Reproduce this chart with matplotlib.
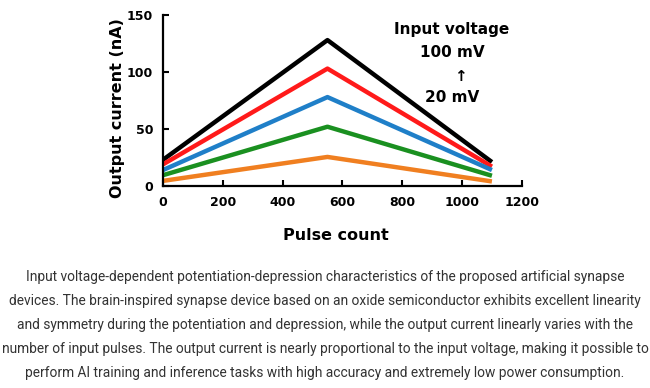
import matplotlib
matplotlib.use("Agg")
import matplotlib.pyplot as plt

# pulse count at start, switch point and end of the train
pulse = [0, 550, 1100]

# output current (nA) for each input voltage, top to bottom
i_100mv = [23, 128, 21]
i_80mv = [19, 103, 17]
i_60mv = [14, 78, 14]
i_40mv = [9.5, 52, 9]
i_20mv = [4.5, 25.5, 4]

series = [i_100mv, i_80mv, i_60mv, i_40mv, i_20mv]
colors = ['#000000', '#ff1a1a', '#1f7fc8', '#1a9020', '#f07f20']

caption = [
    "Input voltage-dependent potentiation-depression characteristics of the proposed artificial synapse",
    "devices. The brain-inspired synapse device based on an oxide semiconductor exhibits excellent linearity",
    "and symmetry during the potentiation and depression, while the output current linearly varies with the",
    "number of input pulses. The output current is nearly proportional to the input voltage, making it possible to",
    "perform AI training and inference tasks with high accuracy and extremely low power consumption.",
]

fig = plt.figure(figsize=(6.5, 3.88), dpi=100)
fig.patch.set_facecolor('white')
ax = fig.add_axes([0.2508, 0.5206, 0.552, 0.4407])

for vals, c in zip(series, colors):
    ax.plot(pulse, vals, color=c, lw=3.2, solid_capstyle='butt')

ax.set_xlim(0, 1200)
ax.set_ylim(0, 150)
ax.set_xticks(range(0, 1201, 200))
ax.set_yticks([0, 50, 100, 150])
for s in ['top', 'right']:
    ax.spines[s].set_visible(False)
for s in ['left', 'bottom']:
    ax.spines[s].set_linewidth(1.6)
ax.tick_params(direction='in', length=4, width=1.5, labelsize=9, pad=7)
for lab in ax.get_xticklabels() + ax.get_yticklabels():
    lab.set_fontweight('bold')

ax.set_xlabel('Pulse count', fontsize=11.5, fontweight='bold')
ax.set_ylabel('Output current (nA)', fontsize=11.5, fontweight='bold')
ax.xaxis.set_label_coords(0.4805, -0.245)
ax.yaxis.set_label_coords(-0.106, 0.456)

ax.text(966, 137, 'Input voltage', ha='center', va='center', fontsize=11, fontweight='bold')
ax.text(966, 117.5, '100 mV', ha='center', va='center', fontsize=11, fontweight='bold')
ax.text(996, 96.5, '\u2191', ha='center', va='center', fontsize=11, fontweight='bold')
ax.text(966, 78, '20 mV', ha='center', va='center', fontsize=11, fontweight='bold')

y0 = 1 - 277 / 388
for k, line in enumerate(caption):
    fig.text(0.5, y0 - k * 24 / 388, line, ha='center', va='center',
             fontsize=9.9, color='#333333', family='Roboto')

fig.savefig('out.png', dpi=100, facecolor='white')
